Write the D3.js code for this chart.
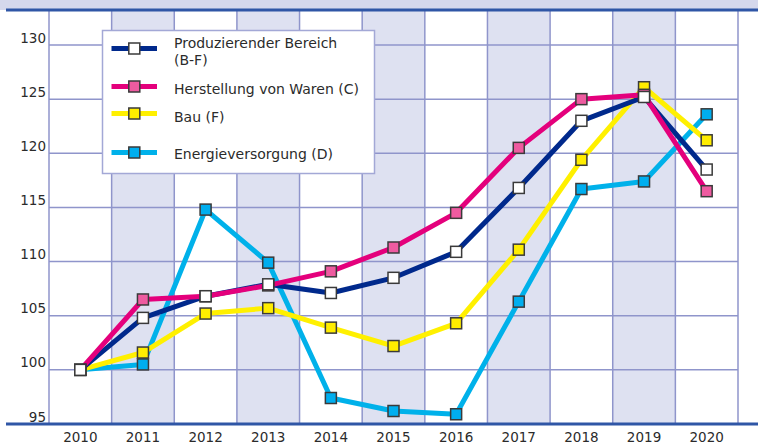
<!DOCTYPE html>
<html>
<head>
<meta charset="utf-8">
<script src="https://cdn.jsdelivr.net/npm/d3@7"></script>
<style>
  html, body { margin: 0; padding: 0; background: #fff; }
  svg { display: block; }
  text { font-family: "DejaVu Sans", Verdana, sans-serif; fill: #2b2b2b; }
</style>
</head>
<body>
<svg id="chart" width="758" height="444"></svg>
<script>
const years = ["2010","2011","2012","2013","2014","2015","2016","2017","2018","2019","2020"];
const yTicks = [95, 100, 105, 110, 115, 120, 125, 130];

const produzierend = [100, 104.8, 106.8, 107.9, 107.1, 108.5, 110.9, 116.8, 123.0, 125.2, 118.5];
const herstellung  = [100, 106.5, 106.8, 107.8, 109.1, 111.3, 114.5, 120.5, 125.0, 125.4, 116.5];
const bau          = [100, 101.6, 105.2, 105.7, 103.9, 102.2, 104.3, 111.1, 119.4, 126.1, 121.2];
const energie      = [100, 100.5, 114.8, 109.9, 97.4, 96.2, 95.9, 106.3, 116.7, 117.4, 123.6];

const seriesNames = ["Produzierender Bereich\n(B-F)", "Herstellung von Waren (C)", "Bau (F)", "Energieversorgung (D)"];

(function () {
const series = [
  { name: seriesNames[0], values: produzierend, line: "#00298c", fill: "#ffffff" },
  { name: seriesNames[1], values: herstellung,  line: "#e4007c", fill: "#ee5ba0" },
  { name: seriesNames[2], values: bau,          line: "#fff000", fill: "#ffed00" },
  { name: seriesNames[3], values: energie,      line: "#00b1ea", fill: "#00aeef" }
];

const svg = d3.select("#chart");
const pLeft = 49, pRight = 738, pTop = 10, pBottom = 424;

const x = d3.scaleBand().domain(years).range([pLeft, pRight]).padding(0);
const y = d3.scaleLinear().domain([95, 130]).range([pBottom, 45]);
const cx = d => x(d) + x.bandwidth() / 2;

const gridColor = "#8f95cb";

// top band
svg.append("rect").attr("x", 0).attr("y", 0).attr("width", 758).attr("height", pTop).attr("fill", "#d5d8ec");

// shaded columns
svg.selectAll("rect.shade").data(years.filter((d, i) => i % 2 === 1)).enter()
  .append("rect").attr("class", "shade")
  .attr("x", d => x(d)).attr("y", pTop)
  .attr("width", x.bandwidth()).attr("height", pBottom - pTop)
  .attr("fill", "#dee1f1");

// horizontal grid
svg.selectAll("line.hgrid").data(yTicks.filter(d => d > 95)).enter()
  .append("line").attr("class", "hgrid")
  .attr("x1", pLeft).attr("x2", pRight)
  .attr("y1", d => y(d)).attr("y2", d => y(d))
  .attr("stroke", gridColor).attr("stroke-width", 1.5);

// vertical grid
const vlines = years.map(d => x(d)).concat([pRight]);
svg.selectAll("line.vgrid").data(vlines).enter()
  .append("line").attr("class", "vgrid")
  .attr("x1", d => d).attr("x2", d => d)
  .attr("y1", pTop).attr("y2", pBottom)
  .attr("stroke", gridColor).attr("stroke-width", 1.5);

// top & bottom lines
svg.append("line").attr("x1", 6).attr("x2", 758).attr("y1", pTop).attr("y2", pTop)
  .attr("stroke", "#2f56a6").attr("stroke-width", 3);
svg.append("line").attr("x1", 6).attr("x2", 758).attr("y1", pBottom).attr("y2", pBottom)
  .attr("stroke", "#2f56a6").attr("stroke-width", 3);

// y labels
svg.selectAll("text.ylab").data(yTicks).enter()
  .append("text").attr("class", "ylab")
  .attr("x", 46).attr("y", d => y(d) - 2.5)
  .attr("text-anchor", "end").attr("font-size", 13.5)
  .text(d => d);

// x labels
svg.selectAll("text.xlab").data(years).enter()
  .append("text").attr("class", "xlab")
  .attr("x", d => cx(d)).attr("y", 442)
  .attr("text-anchor", "middle").attr("font-size", 13.5)
  .text(d => d);

// legend
const lg = svg.append("g");
lg.append("rect").attr("x", 102.5).attr("y", 30.5).attr("width", 272).attr("height", 143)
  .attr("fill", "#fff").attr("stroke", "#a3a8d6").attr("stroke-width", 1.5);
const legendRows = [
  { s: series[0], my: 48.5, ty: [48, 64.5] },
  { s: series[1], my: 86.5, ty: [93.5] },
  { s: series[2], my: 113.5, ty: [122] },
  { s: series[3], my: 152.5, ty: [159] }
];
legendRows.forEach(r => {
  lg.append("line").attr("x1", 111.5).attr("x2", 157).attr("y1", r.my).attr("y2", r.my)
    .attr("stroke", r.s.line).attr("stroke-width", 5);
  lg.append("rect").attr("x", 134.3 - 5.5).attr("y", r.my - 5.5).attr("width", 11).attr("height", 11)
    .attr("fill", r.s.fill).attr("stroke", "#3a3a3a").attr("stroke-width", 1.5);
  const parts = r.s.name.split("\n");
  parts.forEach((p, i) => {
    lg.append("text").attr("x", 174).attr("y", r.ty[i]).attr("font-size", 14).text(p);
  });
});

// lines
const line = d3.line().x((d, i) => cx(years[i])).y(d => y(d));
const lineOrder = [series[3], series[2], series[0], series[1]];
lineOrder.forEach(s => {
  svg.append("path").datum(s.values).attr("d", line)
    .attr("fill", "none").attr("stroke", s.line).attr("stroke-width", 5)
    .attr("stroke-linejoin", "round");
});

// markers
const markerOrder = [series[3], series[2], series[1], series[0]];
markerOrder.forEach(s => {
  svg.append("g").selectAll("rect").data(s.values).enter()
    .append("rect")
    .attr("x", (d, i) => cx(years[i]) - 5.5).attr("y", d => y(d) - 5.5)
    .attr("width", 11).attr("height", 11)
    .attr("fill", s.fill).attr("stroke", "#3a3a3a").attr("stroke-width", 1.5);
});
})();
</script>
</body>
</html>
